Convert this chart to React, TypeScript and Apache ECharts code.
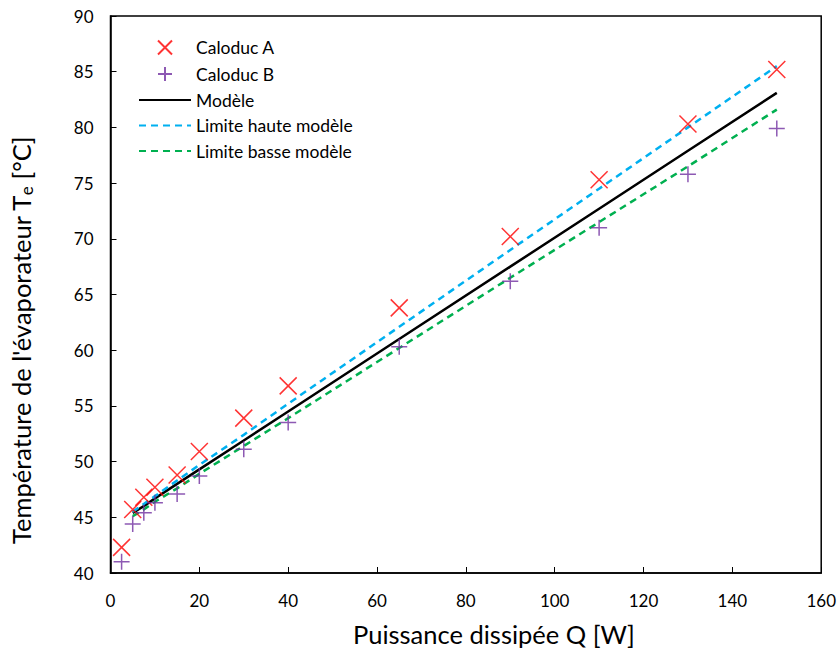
import React, { useEffect, useRef } from "react";
import * as echarts from "echarts";

const pointsX = [2.5, 5, 7.5, 10, 15, 20, 30, 40, 65, 90, 110, 130, 150];
const caloducA = [42.3, 45.7, 46.8, 47.7, 48.8, 50.9, 53.9, 56.8, 63.8, 70.2, 75.3, 80.3, 85.2];
const caloducB = [41.0, 44.4, 45.4, 46.3, 47.1, 48.7, 51.1, 53.5, 60.3, 66.2, 71.0, 75.8, 79.9];

const modelX = [5, 7.5, 10, 15, 20, 30, 40, 65, 90, 110, 130, 150];
const modele = [45.4, 46.0, 46.7, 48.0, 49.3, 51.9, 54.5, 61.0, 67.5, 72.7, 77.9, 83.1];
const limiteHaute = [45.5, 46.2, 46.9, 48.3, 49.7, 52.4, 55.2, 62.1, 69.0, 74.5, 80.0, 85.5];
const limiteBasse = [45.1, 45.7, 46.4, 47.6, 48.9, 51.4, 53.9, 60.2, 66.5, 71.5, 76.5, 81.6];

const FONT = "Lato, 'Open Sans', sans-serif";
const CROSS = "path://M0,0L10,10M10,0L0,10";
const PLUS = "path://M5,0L5,10M0,5L10,5";
const hiddenSymbol = { color: "transparent", borderWidth: 0, opacity: 0 };

export default function App() {
  const ref = useRef<HTMLDivElement>(null);
  useEffect(() => {
    document.body.style.margin = "0";
    if (!ref.current) return;
    const chart = echarts.init(ref.current, null, { renderer: "svg" });
    const zip = (xs: number[], ys: number[]) => xs.map((x, i) => [x, ys[i]]);
    chart.setOption({
      animation: false,
      backgroundColor: "#fff",
      textStyle: { fontFamily: FONT },
      grid: {
        left: 110,
        right: 17,
        top: 16,
        bottom: 81,
        show: true,
        borderColor: "#000",
        borderWidth: 1.5,
        backgroundColor: "transparent",
      },
      legend: {
        orient: "vertical",
        left: 133,
        top: 33,
        itemWidth: 52,
        itemHeight: 14,
        itemGap: 7.5,
        textStyle: { fontFamily: FONT, fontSize: 17.5, color: "#000" },
        data: [
          { name: "Caloduc A" },
          { name: "Caloduc B" },
          { name: "Modèle", itemStyle: hiddenSymbol },
          { name: "Limite haute modèle", itemStyle: hiddenSymbol },
          { name: "Limite basse modèle", itemStyle: hiddenSymbol },
        ],
      },
      xAxis: {
        type: "value",
        min: 0,
        max: 160,
        interval: 20,
        name: "Puissance dissipée Q [W]",
        nameLocation: "middle",
        nameGap: 48,
        nameTextStyle: { fontFamily: FONT, fontSize: 25.5, color: "#000", padding: [0, 0, 0, 56] },
        axisLine: { show: true, lineStyle: { color: "#000", width: 1.5 } },
        axisTick: { show: true, inside: true, length: 6, lineStyle: { color: "#000" } },
        axisLabel: { fontFamily: FONT, fontSize: 17, color: "#000", margin: 19 },
        splitLine: { show: false },
      },
      yAxis: {
        type: "value",
        min: 40,
        max: 90,
        interval: 5,
        name: "Température de l'évaporateur T{sub|e} [°C]",
        nameLocation: "middle",
        nameRotate: 90,
        nameGap: 76,
        nameTextStyle: {
          fontFamily: FONT,
          fontSize: 25.5,
          color: "#000",
          padding: [0, 92, 0, 0],
          rich: { sub: { fontSize: 17, fontFamily: FONT, color: "#000", verticalAlign: "bottom", padding: [10, 0, 0, 0] } },
        },
        axisLine: { show: true, lineStyle: { color: "#000", width: 1.5 } },
        axisTick: { show: true, inside: true, length: 6, lineStyle: { color: "#000" } },
        axisLabel: { fontFamily: FONT, fontSize: 17, color: "#000", margin: 17 },
        splitLine: { show: false },
      },
      series: [
        {
          name: "Modèle",
          type: "line",
          data: zip(modelX, modele),
          symbol: "none",
          lineStyle: { color: "#000", width: 2.5 },
          itemStyle: { color: "#000" },
          z: 3,
        },
        {
          name: "Limite haute modèle",
          type: "line",
          data: zip(modelX, limiteHaute),
          symbol: "none",
          lineStyle: { color: "#00B0F0", width: 2.5, type: [7, 5] },
          itemStyle: { color: "#00B0F0" },
          z: 3,
        },
        {
          name: "Limite basse modèle",
          type: "line",
          data: zip(modelX, limiteBasse),
          symbol: "none",
          lineStyle: { color: "#00B050", width: 2.5, type: [7, 5] },
          itemStyle: { color: "#00B050" },
          z: 3,
        },
        {
          name: "Caloduc A",
          type: "scatter",
          data: zip(pointsX, caloducA),
          symbol: CROSS,
          symbolSize: 17,
          itemStyle: { color: "none", borderColor: "#FF0000", borderWidth: 1.5 },
          z: 4,
        },
        {
          name: "Caloduc B",
          type: "scatter",
          data: zip(pointsX, caloducB),
          symbol: PLUS,
          symbolSize: 16,
          itemStyle: { color: "none", borderColor: "#7030A0", borderWidth: 1.5 },
          z: 4,
        },
      ],
    });
    return () => chart.dispose();
  }, []);
  return <div ref={ref} style={{ width: 839, height: 654 }} />;
}
